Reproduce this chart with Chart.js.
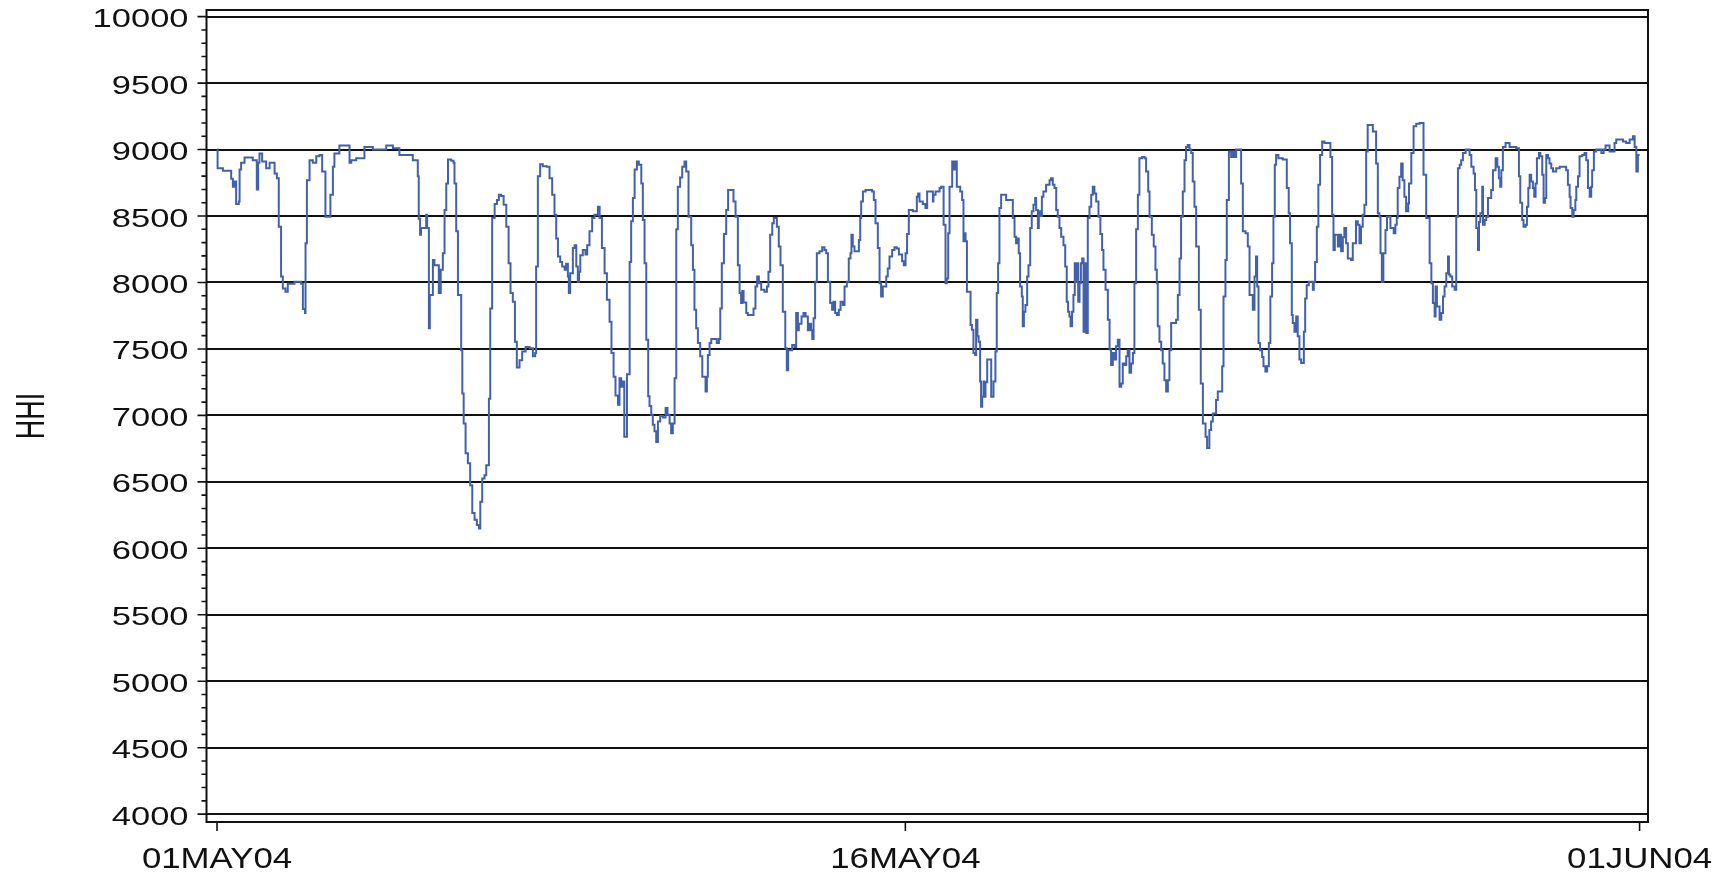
<!DOCTYPE html>
<html>
<head>
<meta charset="utf-8">
<title>HHI, May 2004</title>
<script src="https://cdn.jsdelivr.net/npm/chart.js@4.4.1/dist/chart.umd.min.js"></script>
<style>
  html, body { margin: 0; padding: 0; background: #fff; }
  #chart { display: block; }
</style>
</head>
<body>
<canvas id="chart" width="1735" height="875"></canvas>
<script>
// hour since 01MAY04 00:00 at which each HHI level starts (step plot)
const hours = [
  0, 0.3, 3.1, 7.4, 8.3, 9.1, 10, 11.4, 11.8, 12.6,
  14.4, 18.7, 20.8, 21.5, 22.2, 23.6, 25.7, 27.5, 30.1, 31.3,
  32.3, 33.5, 34.4, 35.8, 37, 40.5, 44, 44.9, 46, 46.3,
  47, 48.4, 50.1, 51.9, 53.6, 55, 56.7, 59.3, 60.6, 61.4,
  64, 69.3, 70.2, 72.8, 77.1, 81.5, 88.5, 92, 95.4, 102.4,
  105, 105.5, 106.2, 106.7, 109.4, 109.9, 110.8, 111.3, 112.9, 113.7,
  116, 117,
  118.1, 119, 119.9, 120.8, 122.5, 123.7, 124.2, 125.1, 126, 127.7,
  128.3, 129, 130, 131.2, 132.4, 133.5, 134.7, 135.9, 137, 137.7,
  138.7, 139.9, 140.8, 142.2, 142.9, 143.9, 145.2, 146.4, 147.4, 148.6,
  149.9, 151.3, 152.5, 153.5, 154.7, 155.8, 156.8, 158.2, 159.6, 161.4,
  163.5, 165.2, 166.4, 166.9, 167.8, 169, 170.4, 172.5, 173.9, 175.3,
  176.5, 177.4, 178.3, 179.5, 180.5, 181.8, 182.6, 183.5, 184, 184.7,
  186.1, 187, 187.9, 188.7, 189.3, 190, 191.3, 192.7, 193.6, 194.8,
  196.2, 197.4, 199.2, 200.1, 201.3, 202.7, 203.9, 205.3, 206.3, 207.4,
  208.4, 209.7, 210.5, 211.4, 212.3, 213, 214.4, 215.8, 216.6, 217.5,
  218.4, 219.6, 220.6, 221.9, 222.7, 223.6, 224.5, 225.5, 226.2, 227.1,
  227.9, 228.8, 229.7, 230.6, 231.8, 233.2, 234.6, 235.6, 236.7, 237.5,
  238.4, 239.3, 240.2, 241, 242.2, 243.3, 244.5, 245.4, 246.6,
  248, 248.9, 249.7, 250.6, 251.5, 252.7, 253.8, 255.5, 256.2, 256.7,
  257.6, 258.5, 261.4, 262.5, 263.2, 264, 265.1, 266.3, 267.3, 270.1,
  271.2, 272.4, 273.3, 274.1, 274.7, 275.4, 276.8, 277.6, 280.6, 281.6,
  282.5, 283.4, 284.6, 286.3, 287.6, 288.4, 289.3, 290.4, 291.2, 292.8,
  293.8, 294.7, 295.9, 297.2, 298, 298.7, 300.8, 302, 302.9, 303.8,
  304.3, 305.7, 306.7, 307.8, 309, 309.9, 310.7, 311.3, 312, 312.8,
  313.7, 315.1, 316.5, 317.7, 318.6, 319.5, 320.7, 321.7, 322.4, 323.3,
  324.2, 325.2, 326.1, 327.3, 328.2, 329.4, 330.4, 331.3, 331.8, 332.5,
  333.4, 335.7, 336.4, 336.9, 337.8, 339.2, 342.6, 343.5, 344.4, 345.6,
  346.5, 347.3, 348.2, 350, 350.8, 351.7, 353.1, 354.3, 355.5, 356.6,
  358.3, 359.2, 360.1, 360.9, 361.8, 363.9, 366, 366.7, 367.4, 369.1,
  370.5, 371.4,
  374.4, 374.7, 375.8, 377.9, 378.7, 380, 381, 381.7, 382.4, 383.1,
  384.5, 385.4, 386.2, 386.9, 388.7, 389.7, 390.4, 391.1, 391.5, 392.2,
  394.1, 394.8, 395.6, 396.5, 397, 397.7, 398.3, 399.1, 399.6, 400.2,
  400.9, 401.4, 401.9, 402.8, 404.9, 406.1, 407.1, 407.8, 408.5, 409.2,
  410.1, 412.7, 416.2, 417.1, 417.9, 418.8, 419.3, 420, 420.9, 421.4,
  422, 422.8, 423.7, 424.4, 425.3, 426.1, 427, 427.9, 428.4, 429.3,
  429.8, 430.5, 431.4, 432.2, 433.6, 435.4, 436.2, 437.1, 438, 438.9,
  439.7, 440.6, 441.5, 442.7, 443.6, 444.4, 445.1, 445.8, 446.4, 447.2,
  447.9, 448.6, 449.3, 449.8, 450.4, 451.1, 451.8, 452.5, 453.2, 453.7,
  454.6, 455.4, 456.3, 457.2, 458, 458.9, 459.8, 461, 462, 462.9,
  463.6, 464.7, 465.9, 466.8, 467.6, 468.5, 469.4, 470.2, 471.1, 472,
  472.9, 473.7, 474.6, 475.5, 476.3, 477.2, 478.1, 479, 479.8, 480.7,
  481.6, 482.4, 483.8, 485.1, 485.9, 487, 487.7, 488.9, 489.9, 490.8,
  491.5, 492, 492.9, 493.8, 494.6, 495.5,
  496.4, 497.3, 498.1, 499, 501.6, 502.5, 503.4, 504.2, 505.1, 506,
  506.8, 507.7, 508.6, 509.5, 510.3, 511.2, 512.1, 513.5, 514.5, 515.6,
  517, 517.8, 519, 519.9, 520.8, 522.5, 523.4, 525.7, 526.4, 527.4,
  528.1, 529.2, 530.4, 531.2, 532.1, 533, 535.6, 536.5, 537.9, 539.1,
  540, 541.7, 542.6, 543.4, 544, 544.7, 545.5, 546.6, 547.3, 548.3,
  549.2, 550.1, 550.9, 551.8, 552.5, 553.2, 553.9, 555.1, 557.4, 559.5,
  560.5, 561.2, 562.1, 562.6, 563.5, 564.4, 565.2, 566.1, 567, 568.4,
  569.1, 569.9, 571, 573.1, 573.6, 574.3, 575.2, 576, 576.9, 578,
  579.2, 582.3, 583.2, 583.9, 584.6, 586.2, 587, 587.9, 588.8, 589.6,
  590.5, 591.4, 593.1, 594, 595.7, 596.6, 597.5, 598.3, 599.2, 600.1,
  601, 601.8, 604.5, 606.2, 607.1, 607.9, 608.5, 609.2, 610, 611.1,
  611.9, 613.7, 615.4, 616.3, 617, 617.5, 618.4, 619.3, 620.1, 621,
  621.9,
  623, 623.4, 624.6, 625.8, 627.2, 629, 631, 632.4, 634.2, 635.1,
  635.9, 636.8, 637.3, 638, 639.4, 640.3, 641.2, 642, 642.9, 643.8,
  644.3, 645, 646, 647.3, 648.1, 649, 649.9, 650.7, 651.6, 653,
  655.1, 656, 657.2, 657.9, 658.6, 659.5, 660, 660.7, 661.7, 662.1,
  663, 663.8, 664.7, 666.4, 667.3, 668.7, 669.6, 670.4, 671.1, 671.7,
  672.5, 673.9, 676, 679.5, 680.9, 681.6, 682.6, 683.3, 684.4, 685.1,
  685.8, 686.5, 687.3, 688.2, 688.9, 689.6, 690.3, 691.4, 692.1, 693.1,
  693.8, 694.5, 695.2, 696.1, 696.9, 697.8, 698.7, 700.4, 702.2, 705.6,
  706.5, 707.4, 707.9, 708.8, 709.5, 710.4, 710.9, 711.8, 712.6, 714,
  715.2, 716.1, 717, 717.9, 718.7, 719.2, 720.1, 721.3, 724, 725.2,
  726.2, 728.3, 730.9, 731.8, 735.3, 737, 738.8, 740.5, 741.4, 742.3,
  743.1, 744
];

const hhi = [
  9000, 8860, 8840, 8780, 8720, 8760, 8590, 8610, 8850, 8900,
  8940, 8920, 8700, 8900, 8970, 8910, 8860, 8900, 8820, 8785,
  8420, 8045, 7955, 7930, 7990, 8005, 7990, 7800, 7770, 8295,
  8770, 8920, 8900, 8950, 8960, 8835, 8495, 8660, 8870, 8970,
  9030, 8900, 8920, 8935, 9020, 9000, 9030, 9010, 8960, 8920,
  8800, 8480, 8360, 8410, 8510, 8410, 7655, 7905, 8170, 8130,
  7920, 8095,
  8220, 8545, 8745, 8925, 8915, 8900, 8745, 8385, 7905, 7490,
  7165, 6940, 6715, 6640, 6475, 6265, 6215, 6175, 6150, 6350,
  6525, 6550, 6625, 7125, 7805, 8485, 8590, 8620, 8660, 8650,
  8585, 8420, 8145, 7920, 7855, 7555, 7360, 7415, 7480, 7515,
  7505, 7445, 7470, 8120, 8800, 8890, 8875, 8870, 8785, 8660,
  8510, 8330, 8195, 8155, 8120, 8095, 8140, 8045, 7920, 8070,
  8260, 8280, 8120, 8005, 8080, 8205, 8245, 8210, 8280, 8385,
  8485, 8510, 8570, 8485, 8260, 8070, 7870, 7705, 7470, 7290,
  7150, 7080, 7280, 7215, 7255, 6840, 7310, 8155, 8460, 8635,
  8850, 8910, 8885, 8745, 8470, 8145, 7570, 7145, 7070, 7005,
  6930, 6880, 6800, 6955, 6995, 6985, 7055, 7005, 6940, 6865,
  6940, 7280, 8400, 8720, 8790, 8870, 8910, 8835, 8495,
  8280, 8095, 7795, 7655, 7545, 7445, 7290, 7180, 7290, 7455,
  7545, 7575, 7545, 7575, 7805, 8145, 8365, 8545, 8695, 8610,
  8495, 8130, 7920, 7845, 7935, 7850, 7770, 7755, 7805, 7970,
  8045, 7995, 7945, 7930, 7970, 8080, 8360, 8445, 8485, 8420,
  8270, 8130, 7780, 7505, 7340, 7490, 7530, 7515, 7770, 7640,
  7690, 7745, 7770, 7745, 7640, 7690, 7640, 7575, 7730, 8005,
  8220, 8235, 8265, 8245, 8220, 8005, 7845, 7795, 7855, 7770,
  7755, 7795, 7855, 7830, 7970, 8005, 8180, 8220, 8360, 8270,
  8235, 8320, 8485, 8610, 8685, 8695, 8685, 8620, 8445, 8260,
  7995, 7895, 7970, 8045, 8105, 8195, 8245, 8265, 8255, 8210,
  8160, 8130, 8220, 8365, 8545, 8535, 8645, 8670, 8610, 8590,
  8560, 8685,
  8610, 8660, 8685, 8710, 8720, 8435, 7995, 8030, 8370, 8720,
  8910, 8850, 8910, 8720, 8685, 8620, 8310, 8370, 8310, 7930,
  7680, 7645, 7470, 7455, 7720, 7595, 7555, 7255, 7065, 7140,
  7255, 7140, 7250, 7420, 7140, 7255, 7480, 7920, 8145, 8560,
  8660, 8620, 8485, 8345, 8295, 8330, 8220, 7970, 7895, 7670,
  7780, 7830, 8045, 8130, 8410, 8535, 8585, 8635, 8545, 8410,
  8535, 8500, 8645, 8685, 8735, 8770, 8785, 8735, 8710, 8545,
  8495, 8410, 8345, 8280, 8120, 7855, 7780, 7745, 7670, 7780,
  7905, 8145, 8005, 8145, 7855, 7995, 8145, 8180, 7630, 8145,
  7620, 8485, 8570, 8660, 8720, 8670, 8610, 8495, 8365, 8245,
  8095, 7945, 7720, 7495, 7380, 7470, 7420, 7520, 7570, 7215,
  7240, 7390, 7380, 7445, 7490, 7320, 7390, 7470, 7995, 8400,
  8660, 8935, 8945, 8935, 8835, 8685, 8495, 8360, 8270, 8095,
  7995, 7670, 7555, 7490, 7390, 7265,
  7180, 7265, 7490, 7695, 7720, 7905, 8180, 8495, 8685, 8920,
  9020, 9035, 9000, 8975, 8760, 8570, 8270, 7795, 7240, 6940,
  6840, 6755, 6890, 6955, 7015, 7115, 7180, 7370, 7895, 8170,
  8620, 8985, 8945, 8985, 8945, 9000, 8745, 8385, 8370, 8270,
  7905, 7795, 8045, 8195, 7970, 7545, 7490, 7440, 7370, 7330,
  7370, 7545, 7895, 8145, 8495, 8885, 8960, 8935, 8925, 8710,
  8520, 8295, 7755, 7695, 7630, 7745, 7595, 7420, 7395, 7630,
  7880, 7980, 8005, 7945, 8005, 8155, 8420, 8735, 8960, 9060,
  9050, 8945, 8510, 8245, 8360, 8270, 8360, 8235, 8340, 8410,
  8295, 8180, 8170, 8295, 8460, 8435, 8295, 8420, 8510, 8585,
  8985, 9185, 9135, 8895, 8520, 8495, 8220, 8005, 8220, 8395,
  8495, 8410, 8370, 8435, 8485, 8710, 8795, 8895, 8770, 8645,
  8535,
  8595, 8745, 8975, 9175, 9195, 9200, 8810, 8485, 8145, 7995,
  7845, 7745, 7970, 7820, 7720, 7770, 7895, 7970, 8070, 8195,
  8060, 8045, 7970, 7945, 8495, 8860, 8885, 8920, 8975, 9000,
  8960, 8870, 8820, 8695, 8410, 8245, 8455, 8520, 8720, 8435,
  8470, 8495, 8635, 8695, 8845, 8935, 8870, 8785, 8720, 8845,
  9020, 9050, 9020, 9010, 8800, 8600, 8470, 8420, 8435, 8570,
  8710, 8810, 8760, 8710, 8645, 8745, 8935, 8975, 8950, 8810,
  8600, 8635, 8960, 8935, 8895, 8860, 8835, 8860, 8870, 8845,
  8735, 8645, 8560, 8495, 8545, 8620, 8720, 8800, 8950, 8960,
  8975, 8920, 8710, 8645, 8720, 8845, 8985, 9000, 8975, 9000,
  9030, 8985, 9050, 9075, 9060, 9050, 9075, 9100, 9020, 8835,
  8960, 8960
];

const yTicks = [4000, 4500, 5000, 5500, 6000, 6500, 7000, 7500, 8000, 8500, 9000, 9500, 10000];
const xTicks = [0, 360, 744];
const xTickLabels = ['01MAY04', '16MAY04', '01JUN04'];
const yTitle = 'HHI';

const ink = '#111';
const font = '"Liberation Sans", Arial, sans-serif';

// SAS style output has wide glyphs, so labels are drawn with a horizontal stretch
function stretchedText(ctx, text, x, y, sx, align) {
  ctx.save();
  ctx.translate(x, y);
  ctx.scale(sx, 1);
  ctx.textAlign = align;
  ctx.textBaseline = 'alphabetic';
  ctx.fillText(text, 0, 0);
  ctx.restore();
}

const axisDecor = {
  id: 'axisDecor',
  afterDraw(chart) {
    const { ctx, chartArea: a, scales: { x, y } } = chart;
    ctx.save();
    ctx.strokeStyle = ink;
    ctx.fillStyle = ink;

    // frame
    ctx.lineWidth = 2;
    ctx.strokeRect(a.left, a.top, a.right - a.left, a.bottom - a.top);

    // y ticks, major every 500 and minor every 100
    ctx.lineWidth = 1.6;
    ctx.beginPath();
    for (let v = yTicks[0]; v <= yTicks[yTicks.length - 1]; v += 100) {
      const py = y.getPixelForValue(v);
      const len = yTicks.includes(v) ? 9 : 5;
      ctx.moveTo(a.left - len, py);
      ctx.lineTo(a.left, py);
    }
    // x ticks
    xTicks.forEach(v => {
      const px = x.getPixelForValue(v);
      ctx.moveTo(px, a.bottom);
      ctx.lineTo(px, a.bottom + 9);
    });
    ctx.stroke();

    // y labels
    ctx.font = '25px ' + font;
    yTicks.forEach(v => {
      stretchedText(ctx, String(v), a.left - 18, y.getPixelForValue(v) + 10.5, 1.38, 'right');
    });

    // x labels
    ctx.font = '30px ' + font;
    xTicks.forEach((v, i) => {
      stretchedText(ctx, xTickLabels[i], x.getPixelForValue(v), 868, 1.16, 'center');
    });

    // y title, rotated
    ctx.font = '27px ' + font;
    ctx.translate(29, (a.top + a.bottom) / 2);
    ctx.rotate(-Math.PI / 2);
    ctx.scale(1, 1.5);
    ctx.textAlign = 'center';
    ctx.textBaseline = 'alphabetic';
    ctx.fillText(yTitle, 0, 9.7);
    ctx.restore();
  }
};

new Chart(document.getElementById('chart'), {
  type: 'line',
  data: {
    datasets: [{
      label: yTitle,
      data: hours.map((h, i) => ({ x: h, y: hhi[i] })),
      stepped: true,
      borderColor: '#4261a9',
      borderWidth: 2,
      pointRadius: 0,
      fill: false
    }]
  },
  options: {
    responsive: false,
    animation: false,
    devicePixelRatio: 1,
    layout: { padding: { top: 10, right: 87, left: 0, bottom: 0 } },
    plugins: {
      legend: { display: false },
      tooltip: { enabled: false }
    },
    scales: {
      x: {
        type: 'linear',
        min: -5.5,
        max: 748.4,
        afterBuildTicks: scale => { scale.ticks = xTicks.map(v => ({ value: v })); },
        afterFit: scale => { scale.height = 53; },
        ticks: { display: false },
        grid: { display: false },
        border: { display: false }
      },
      y: {
        min: 3941,
        max: 10050,
        afterBuildTicks: scale => { scale.ticks = yTicks.map(v => ({ value: v })); },
        afterFit: scale => { scale.width = 206.5; },
        ticks: { display: false },
        grid: { color: ink, lineWidth: 2, drawTicks: false },
        border: { display: false }
      }
    }
  },
  plugins: [axisDecor]
});
</script>
</body>
</html>
